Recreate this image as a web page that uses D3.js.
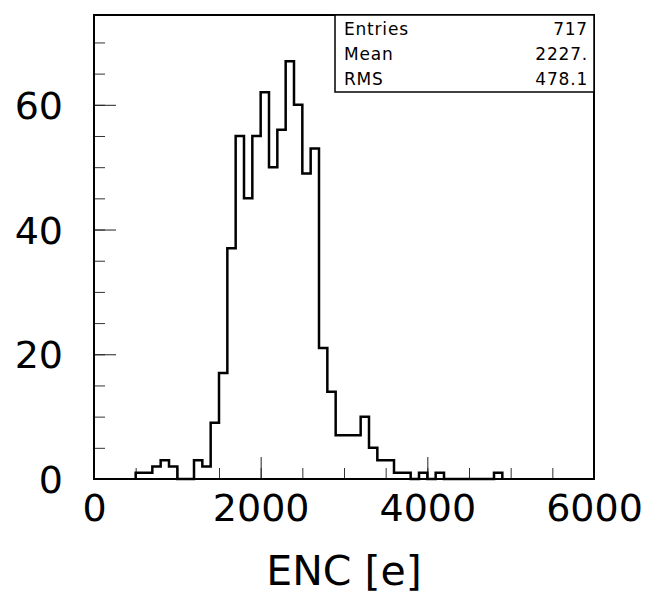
<!DOCTYPE html>
<html>
<head>
<meta charset="utf-8">
<script src="https://cdn.jsdelivr.net/npm/d3@7"></script>
<style>
  body { margin: 0; background: #fff; }
  text { font-family: "DejaVu Sans", sans-serif; }
</style>
</head>
<body>
<div id="graph"></div>
<script>
// histogram bins (lower edge, width 100) and counts
const binLow = [500, 600, 700, 800, 900, 1000, 1100, 1200, 1300, 1400,
  1500, 1600, 1700, 1800, 1900, 2000, 2100, 2200, 2300, 2400,
  2500, 2600, 2700, 2800, 2900, 3000, 3100, 3200, 3300, 3400,
  3500, 3600, 3700, 3800, 3900, 4000, 4100, 4200, 4300, 4400,
  4500, 4600, 4700, 4800];
const counts = [1, 1, 2, 3, 2, 0, 0, 3, 2, 9,
  17, 37, 55, 45, 55, 62, 50, 56, 67, 60,
  49, 53, 21, 14, 7, 7, 7, 10, 5, 3,
  3, 1, 1, 0, 1, 0, 1, 0, 0, 0,
  0, 0, 0, 1];
const binWidth = 100;

const xMajor = [0, 2000, 4000, 6000];
const yMajor = [0, 20, 40, 60];
const statNames = ["Entries", "Mean", "RMS"];
const statValues = ["717", "2227.", "478.1"];
const xTitle = "ENC [e]";

const width = 659, height = 603;
const frame = {left: 94, right: 594, top: 15, bottom: 479};

const svg = d3.select("#graph")
  .append("svg")
    .attr("width", width)
    .attr("height", height);

const x = d3.scaleLinear()
  .domain([0, 6000])
  .range([frame.left, frame.right]);
const y = d3.scaleLinear()
  .domain([0, 74.4])
  .range([frame.bottom, frame.top]);

// minor ticks
svg.append("g")
  .attr("transform", "translate(0," + frame.bottom + ")")
  .call(d3.axisBottom(x).tickValues(d3.range(0, 6001, 500)).tickSize(-11).tickFormat(""))
  .call(g => g.select(".domain").remove())
  .selectAll("line").attr("stroke", "#333");
svg.append("g")
  .attr("transform", "translate(" + frame.left + ",0)")
  .call(d3.axisLeft(y).tickValues(d3.range(0, 75, 5)).tickSize(-11).tickFormat(""))
  .call(g => g.select(".domain").remove())
  .selectAll("line").attr("stroke", "#333");

// major ticks + labels
svg.append("g")
  .attr("transform", "translate(0," + frame.bottom + ")")
  .call(d3.axisBottom(x).tickValues(xMajor).tickSize(-22).tickPadding(15).tickFormat(d3.format("d")))
  .call(g => g.select(".domain").remove())
  .call(g => g.selectAll("line").attr("stroke", "#222"))
  .selectAll("text")
    .attr("font-size", 38)
    .attr("fill", "#000")
    .style("font-family", "'DejaVu Sans', sans-serif");
svg.append("g")
  .attr("transform", "translate(" + frame.left + ",0)")
  .call(d3.axisLeft(y).tickValues(yMajor).tickSize(-22).tickPadding(31).tickFormat(d3.format("d")))
  .call(g => g.select(".domain").remove())
  .call(g => g.selectAll("line").attr("stroke", "#222"))
  .selectAll("text")
    .attr("font-size", 38)
    .attr("dy", "0.36em")
    .attr("fill", "#000")
    .style("font-family", "'DejaVu Sans', sans-serif");

// histogram step outline
const pts = [[binLow[0], 0]];
binLow.forEach((b, i) => {
  pts.push([b, counts[i]]);
  pts.push([b + binWidth, counts[i]]);
});
pts.push([binLow[binLow.length - 1] + binWidth, 0]);

svg.append("path")
  .datum(pts)
  .attr("fill", "none")
  .attr("stroke", "#000")
  .attr("stroke-width", 2.5)
  .attr("stroke-linejoin", "miter")
  .attr("d", d3.line().x(d => x(d[0])).y(d => y(d[1])));

// frame
svg.append("rect")
  .attr("x", frame.left)
  .attr("y", frame.top)
  .attr("width", frame.right - frame.left)
  .attr("height", frame.bottom - frame.top)
  .attr("fill", "none")
  .attr("stroke", "#000")
  .attr("stroke-width", 2);

// stats box
const box = {x: 335, y: 15, w: frame.right - 335, h: 77};
svg.append("rect")
  .attr("x", box.x)
  .attr("y", box.y)
  .attr("width", box.w)
  .attr("height", box.h)
  .attr("fill", "#fff")
  .attr("stroke", "#000")
  .attr("stroke-width", 1.5);

statNames.forEach((n, i) => {
  svg.append("text")
    .attr("x", 344)
    .attr("y", 35 + i * 25)
    .attr("font-size", 17)
    .attr("letter-spacing", "0.8px")
    .text(n);
  svg.append("text")
    .attr("x", 588)
    .attr("y", 35 + i * 25)
    .attr("font-size", 17)
    .attr("letter-spacing", "0.8px")
    .attr("text-anchor", "end")
    .text(statValues[i]);
});

// axis title
svg.append("text")
  .attr("x", (frame.left + frame.right) / 2)
  .attr("y", 585)
  .attr("text-anchor", "middle")
  .attr("font-size", 41)
  .text(xTitle);
</script>
</body>
</html>
